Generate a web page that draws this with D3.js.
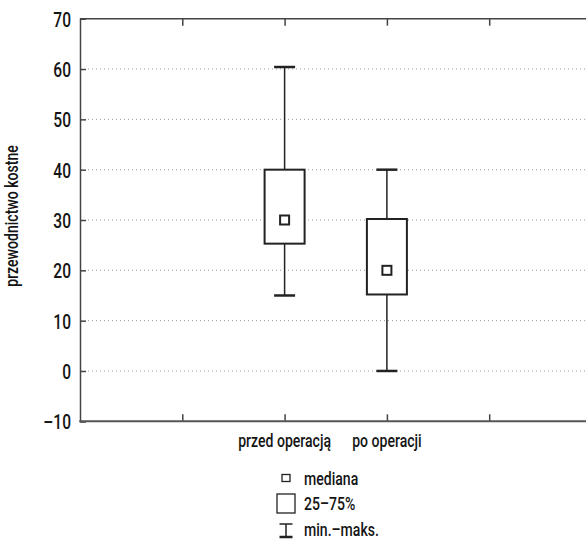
<!DOCTYPE html>
<html>
<head>
<meta charset="utf-8">
<script src="https://cdn.jsdelivr.net/npm/d3@7"></script>
<style>
  html, body { margin: 0; padding: 0; background: #fff; }
  svg { display: block; }
  text { font-family: Roboto, "DejaVu Sans Condensed", sans-serif; font-weight: 500; fill: #151515; }
</style>
</head>
<body>
<svg id="chart" width="586" height="540"></svg>
<script>
// ---- data ----
const categories = ["przed operacją", "po operacji"];
const mins    = [15, 0];
const q1      = [25.3, 15.2];
const medians = [30, 20];
const q3      = [40, 30.2];
const maxs    = [60.4, 40];
const yTicks  = [-10, 0, 10, 20, 30, 40, 50, 60, 70];
const gridValues = [0, 10, 20, 30, 40, 50, 60];
const yLabel = "przewodnictwo kostne";
const legendLabels = ["mediana", "25–75%", "min.–maks."];

(function () {
const FONT = 'Roboto, "DejaVu Sans Condensed", sans-serif';
const COND = 0.74; // horizontal condensation to mimic a condensed face
function condense(sel, k) {
  sel.each(function () {
    const w = this.getComputedTextLength();
    d3.select(this).attr("textLength", w * k).attr("lengthAdjust", "spacingAndGlyphs");
  });
}

// ---- layout ----
const mLeft = 80, mTop = 18.7, mBottom = 421.3, mRight = 586;
const svg = d3.select("#chart");

const y = d3.scaleLinear().domain([-10, 70]).range([mBottom, mTop]);
// x slots 0..5, categories sit on slots 2 and 3
const x = d3.scaleLinear().domain([0, 5]).range([mLeft, 591.5]);
const catPos = i => x(i + 2);

const axisColor = "#444";

// grid
svg.append("g").selectAll("line").data(gridValues).join("line")
  .attr("x1", mLeft + 8).attr("x2", mRight)
  .attr("y1", d => y(d)).attr("y2", d => y(d))
  .attr("stroke", "#9a9a9a").attr("stroke-width", 1)
  .attr("stroke-dasharray", "1,3");

// left axis
const gy = svg.append("g").attr("transform", `translate(${mLeft},0)`)
  .call(d3.axisLeft(y).tickValues(yTicks).tickSize(-6).tickPadding(9)
    .tickFormat(d => d < 0 ? "–" + Math.abs(d) : d));
gy.select(".domain").attr("stroke", axisColor).attr("stroke-width", 1.5);
gy.selectAll(".tick line").attr("stroke", axisColor).attr("stroke-width", 1.5);
gy.selectAll(".tick text").attr("font-size", 21).attr("fill", "#151515")
  .attr("dy", "0.36em")
  .style("font-family", FONT).style("font-weight", 500);
condense(gy.selectAll(".tick text"), COND);

// top & bottom frame with inward ticks
const xTickVals = [1, 2, 3, 4];
const gt = svg.append("g").attr("transform", `translate(0,${mTop})`)
  .call(d3.axisTop(x).tickValues(xTickVals).tickSize(-7).tickFormat(""));
gt.select(".domain").remove();
gt.selectAll(".tick line").attr("stroke", axisColor).attr("stroke-width", 1.5);
svg.append("line").attr("x1", mLeft).attr("x2", mRight).attr("y1", mTop).attr("y2", mTop)
  .attr("stroke", axisColor).attr("stroke-width", 1.5);

const gb = svg.append("g").attr("transform", `translate(0,${mBottom})`)
  .call(d3.axisBottom(x).tickValues(xTickVals).tickSize(-7).tickFormat(""));
gb.select(".domain").remove();
gb.selectAll(".tick line").attr("stroke", axisColor).attr("stroke-width", 1.5);
svg.append("line").attr("x1", mLeft - 0.75).attr("x2", mRight).attr("y1", mBottom).attr("y2", mBottom)
  .attr("stroke", "#555").attr("stroke-width", 2);

// category labels (condensed via horizontal scale)
svg.append("g").selectAll("text").data(categories).join("text")
  .attr("transform", (d, i) => `translate(${catPos(i)},447) scale(${COND},1)`)
  .attr("text-anchor", "middle").attr("font-size", 19)
  .text(d => d);

// y label
svg.append("text")
  .attr("transform", `translate(18,216) rotate(-90) scale(${COND},1)`)
  .attr("text-anchor", "middle").attr("font-size", 19)
  .text(yLabel);

// boxes
const boxW = 40, capW = 21, medS = 9;
const stroke = "#222";
const g = svg.append("g");
categories.forEach((c, i) => {
  const cx = catPos(i);
  g.append("line").attr("x1", cx).attr("x2", cx).attr("y1", y(maxs[i])).attr("y2", y(q3[i]))
    .attr("stroke", stroke).attr("stroke-width", 1.5);
  g.append("line").attr("x1", cx).attr("x2", cx).attr("y1", y(q1[i])).attr("y2", y(mins[i]))
    .attr("stroke", stroke).attr("stroke-width", 1.5);
  [maxs[i], mins[i]].forEach(v => {
    g.append("line").attr("x1", cx - capW / 2).attr("x2", cx + capW / 2)
      .attr("y1", y(v)).attr("y2", y(v))
      .attr("stroke", stroke).attr("stroke-width", 2.5);
  });
  g.append("rect").attr("x", cx - boxW / 2).attr("width", boxW)
    .attr("y", y(q3[i])).attr("height", y(q1[i]) - y(q3[i]))
    .attr("fill", "#fff").attr("stroke", stroke).attr("stroke-width", 2);
  g.append("rect").attr("x", cx - medS / 2).attr("width", medS)
    .attr("y", y(medians[i]) - medS / 2).attr("height", medS)
    .attr("fill", "#fff").attr("stroke", stroke).attr("stroke-width", 2);
});

// legend
const lg = svg.append("g");
const lx = 286, tx = 304;
lg.append("rect").attr("x", lx - 4).attr("y", 474.5).attr("width", 8).attr("height", 7)
  .attr("fill", "#fff").attr("stroke", stroke).attr("stroke-width", 1.3);
lg.append("rect").attr("x", lx - 9).attr("y", 494).attr("width", 18).attr("height", 19)
  .attr("fill", "#fff").attr("stroke", stroke).attr("stroke-width", 1.3);
lg.append("line").attr("x1", lx - 6.5).attr("x2", lx + 6.5).attr("y1", 524).attr("y2", 524)
  .attr("stroke", stroke).attr("stroke-width", 1.5);
lg.append("line").attr("x1", lx).attr("x2", lx).attr("y1", 524).attr("y2", 537)
  .attr("stroke", stroke).attr("stroke-width", 1.5);
lg.append("line").attr("x1", lx - 6.5).attr("x2", lx + 6.5).attr("y1", 537).attr("y2", 537)
  .attr("stroke", stroke).attr("stroke-width", 2.5);
lg.selectAll("text").data(legendLabels).join("text")
  .attr("transform", (d, i) => `translate(${tx},${[485, 510, 536][i]}) scale(${COND},1)`)
  .attr("font-size", 19).text(d => d);
})();
</script>
</body>
</html>
